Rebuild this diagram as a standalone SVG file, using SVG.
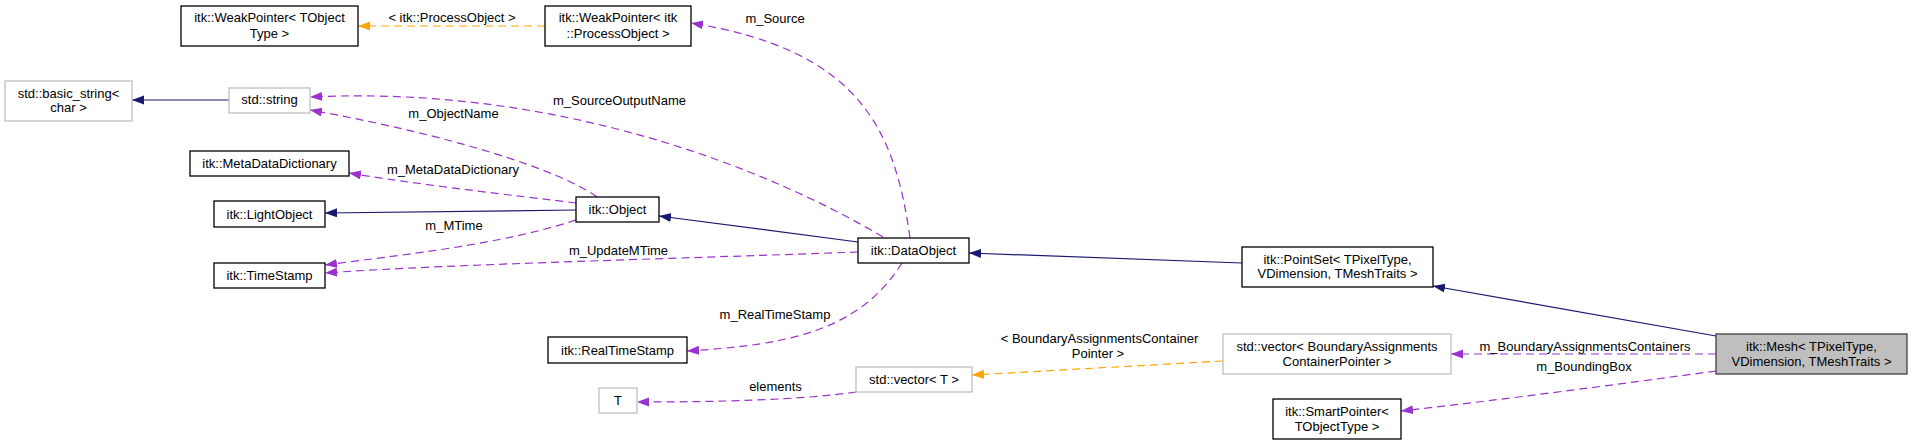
<svg xmlns="http://www.w3.org/2000/svg" width="1912" height="445" viewBox="0 0 1912 445">
<style>
text{font-family:"Liberation Sans",Arial,sans-serif;font-size:13px;fill:#000;text-anchor:middle}
.n rect{fill:#fff;stroke:#000;stroke-width:1.3}
.u rect{fill:#fff;stroke:#bfbfbf;stroke-width:1.3}
.cur rect{fill:#bfbfbf;stroke:#404040;stroke-width:1.3}
.inh{fill:none;stroke:#191970;stroke-width:1.2;marker-end:url(#an)}
.use{fill:none;stroke:#9a32cd;stroke-width:1.2;stroke-dasharray:8,5;marker-end:url(#ap)}
.tpl{fill:none;stroke:#ffa500;stroke-width:1.2;stroke-dasharray:8,5;marker-end:url(#ao)}
</style>
<defs>
<marker id="an" markerUnits="userSpaceOnUse" markerWidth="13" markerHeight="10" refX="12" refY="4.5" orient="auto"><path d="M0,0 L12,4.5 L0,9 z" fill="#191970"/></marker>
<marker id="ap" markerUnits="userSpaceOnUse" markerWidth="13" markerHeight="10" refX="12" refY="4.5" orient="auto"><path d="M0,0 L12,4.5 L0,9 z" fill="#9a32cd"/></marker>
<marker id="ao" markerUnits="userSpaceOnUse" markerWidth="13" markerHeight="10" refX="12" refY="4.5" orient="auto"><path d="M0,0 L12,4.5 L0,9 z" fill="#ffa500"/></marker>
</defs>
<rect width="1912" height="445" fill="#fff"/>
<g id="connectors">
<path class="inh" d="M229,100 L132,100"/>
<path class="inh" d="M576,210 L325,213"/>
<path class="inh" d="M858,242 L659,216"/>
<path class="inh" d="M1242,263 L969,253"/>
<path class="inh" d="M1716,336 L1433,286"/>
<path class="tpl" d="M545,26 L358,26"/>
<path class="tpl" d="M1223,361 L972,375"/>
<path class="use" d="M910,238 C895,130 860,50 691,23"/>
<path class="use" d="M883,237 C770,170 560,85 310,97"/>
<path class="use" d="M597,197 C560,170 450,135 310,110"/>
<path class="use" d="M576,203 C520,196 420,185 349,173"/>
<path class="use" d="M576,220 C500,245 400,255 325,265"/>
<path class="use" d="M858,252 C700,258 450,264 325,273"/>
<path class="use" d="M902,263 C860,330 790,345 687,351"/>
<path class="use" d="M856,392 C800,400 720,402 637,402"/>
<path class="use" d="M1716,354 L1451,354"/>
<path class="use" d="M1716,371 C1620,384 1500,400 1401,411"/>
<text x="452" y="21.5">&lt; itk::ProcessObject &gt;</text>
<text x="775" y="22.5">m_Source</text>
<text x="619.5" y="104.5">m_SourceOutputName</text>
<text x="453.5" y="117.5">m_ObjectName</text>
<text x="453" y="173.5">m_MetaDataDictionary</text>
<text x="454" y="229.5">m_MTime</text>
<text x="618.5" y="254.5">m_UpdateMTime</text>
<text x="775" y="318.5">m_RealTimeStamp</text>
<text x="775.5" y="390.5">elements</text>
<text x="1099.5" y="342.5">&lt; BoundaryAssignmentsContainer</text>
<text x="1098" y="357.5">Pointer &gt;</text>
<text x="1585" y="350.5">m_BoundaryAssignmentsContainers</text>
<text x="1584" y="370.5">m_BoundingBox</text>
</g>
<g id="weakpointer_tobject" class="n"><rect x="181" y="6" width="177" height="40"/><text x="269.5" y="21.5">itk::WeakPointer&lt; TObject</text><text x="269.5" y="37.5">Type &gt;</text></g>
<g id="weakpointer_processobject" class="n"><rect x="545" y="6" width="146" height="40"/><text x="618" y="21.5">itk::WeakPointer&lt; itk</text><text x="618" y="37.5">::ProcessObject &gt;</text></g>
<g id="basic_string" class="u"><rect x="5" y="81" width="127" height="40"/><text x="68.5" y="97.5">std::basic_string&lt;</text><text x="68.5" y="111.5">char &gt;</text></g>
<g id="std_string" class="u"><rect x="229" y="88" width="81" height="25"/><text x="269.5" y="103.5">std::string</text></g>
<g id="metadatadictionary" class="n"><rect x="190" y="151" width="159" height="25"/><text x="269.5" y="168">itk::MetaDataDictionary</text></g>
<g id="lightobject" class="n"><rect x="214" y="201" width="111" height="26"/><text x="269.5" y="218.5">itk::LightObject</text></g>
<g id="object" class="n"><rect x="576" y="197" width="83" height="25"/><text x="617.5" y="214">itk::Object</text></g>
<g id="timestamp" class="n"><rect x="214" y="263" width="111" height="25"/><text x="269.5" y="280">itk::TimeStamp</text></g>
<g id="dataobject" class="n"><rect x="858" y="238" width="111" height="25"/><text x="913.5" y="255">itk::DataObject</text></g>
<g id="realtimestamp" class="n"><rect x="548" y="337" width="139" height="26"/><text x="617.5" y="354.5">itk::RealTimeStamp</text></g>
<g id="t_param" class="u"><rect x="599" y="388" width="38" height="25"/><text x="618" y="405">T</text></g>
<g id="vector_t" class="u"><rect x="856" y="367" width="116" height="25"/><text x="914" y="384">std::vector&lt; T &gt;</text></g>
<g id="pointset" class="n"><rect x="1242" y="247" width="191" height="40"/><text x="1337.5" y="263.5">itk::PointSet&lt; TPixelType,</text><text x="1337.5" y="277.5">VDimension, TMeshTraits &gt;</text></g>
<g id="vector_boundary" class="u"><rect x="1223" y="334" width="228" height="40"/><text x="1337" y="350.5">std::vector&lt; BoundaryAssignments</text><text x="1337" y="365.5">ContainerPointer &gt;</text></g>
<g id="mesh" class="cur"><rect x="1716" y="334" width="191" height="40"/><text x="1811.5" y="350.5">itk::Mesh&lt; TPixelType,</text><text x="1811.5" y="365.5">VDimension, TMeshTraits &gt;</text></g>
<g id="smartpointer" class="n"><rect x="1273" y="399" width="128" height="40"/><text x="1337" y="415.5">itk::SmartPointer&lt;</text><text x="1337" y="430.5">TObjectType &gt;</text></g>
</svg>
